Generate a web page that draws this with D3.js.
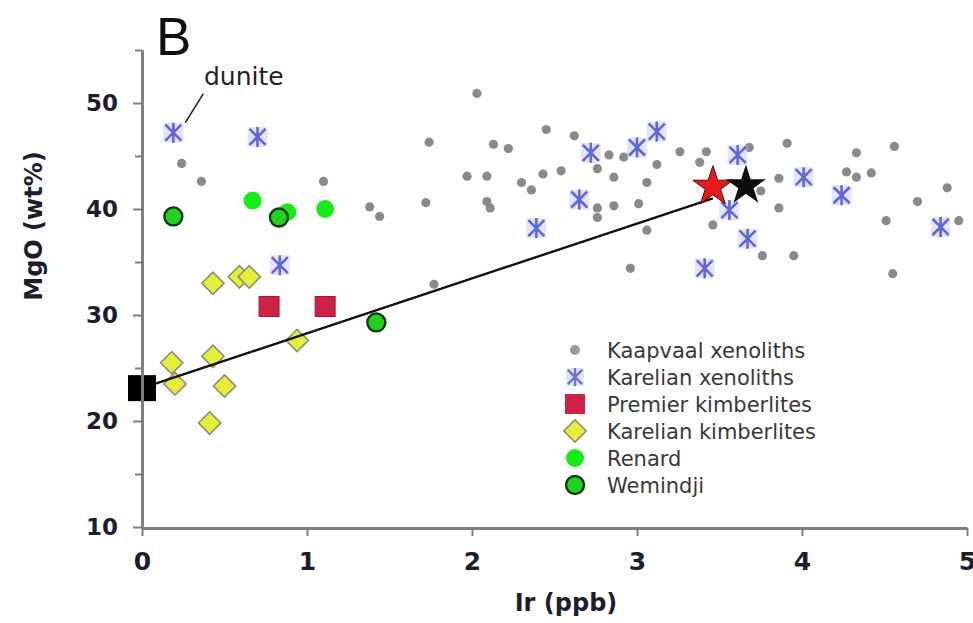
<!DOCTYPE html>
<html>
<head>
<meta charset="utf-8">
<script src="https://cdn.jsdelivr.net/npm/d3@7"></script>
<style>
  body { margin: 0; background: #fff; }
  svg { display: block; }
  .tick text { font-family: "DejaVu Sans", sans-serif; font-weight: bold; fill: #1d1d2b; }
  .legText { font-family: "DejaVu Sans", sans-serif; font-size: 21px; fill: #383838; }
</style>
</head>
<body>
<div id="scatter"></div>
<script>
// MgO vs Ir scatter (panel B)

// Data: [Ir ppb, MgO wt%]
var kaapvaal = [
  [0.24, 44.3], [0.36, 42.6], [1.10, 42.6], [1.38, 40.2], [1.44, 39.3],
  [1.74, 46.3], [1.72, 40.6], [1.77, 32.9], [2.03, 50.9], [1.97, 43.1],
  [2.09, 43.1], [2.09, 40.7], [2.11, 40.1], [2.13, 46.1], [2.22, 45.7],
  [2.30, 42.5], [2.36, 41.8], [2.43, 43.3], [2.54, 43.6], [2.45, 47.5],
  [2.62, 46.9], [2.76, 43.8], [2.83, 45.1], [2.86, 43.0], [2.76, 40.1],
  [2.76, 39.2], [2.86, 40.3], [2.92, 44.9], [3.01, 40.5], [3.06, 42.5],
  [3.06, 38.0], [2.96, 34.4], [3.12, 44.2], [3.26, 45.4], [3.42, 45.4],
  [3.38, 44.4], [3.46, 38.5], [3.68, 45.8], [3.75, 41.7], [3.86, 42.9],
  [3.86, 40.1], [3.91, 46.2], [3.76, 35.6], [3.95, 35.6], [4.33, 45.3],
  [4.56, 45.9], [4.27, 43.5], [4.33, 43.0], [4.42, 43.4], [4.88, 42.0],
  [4.70, 40.7], [4.51, 38.9], [4.95, 38.9], [4.55, 33.9]
];
var karelianXeno = [
  [0.19, 47.2], [0.70, 46.8], [0.835, 34.7], [2.39, 38.2], [2.65, 40.9],
  [2.72, 45.3], [3.00, 45.8], [3.12, 47.3], [3.41, 34.4], [3.56, 39.9],
  [3.61, 45.1], [3.67, 37.2], [4.01, 43.0], [4.24, 41.3], [4.84, 38.3]
];
var premier = [[0.77, 30.8], [1.11, 30.8]];
var karelianKimb = [
  [0.43, 33.0], [0.59, 33.6], [0.65, 33.6], [0.94, 27.6], [0.18, 25.5],
  [0.43, 26.1], [0.20, 23.5], [0.50, 23.3], [0.41, 19.8]
];
var renard = [[0.67, 40.8], [0.88, 39.7], [1.11, 40.0]];
var wemindji = [[0.19, 39.3], [0.83, 39.2], [1.42, 29.3]];
var startPoint = [0, 23.1];
var redStar = [3.46, 42.1];
var blackStar = [3.66, 42.2];
var mixLine = [[0, 23.1], [3.46, 41.0]];

var xTicks = [0, 1, 2, 3, 4, 5];
var yTicks = [10, 20, 30, 40, 50];
var yMinor = [15, 25, 35, 45, 55];
var legendNames = ["Kaapvaal xenoliths", "Karelian xenoliths", "Premier kimberlites",
  "Karelian kimberlites", "Renard", "Wemindji"];

// canvas
var width = 973;
var height = 623;

var svg = d3.select("#scatter")
  .append("svg")
  .attr("width", width)
  .attr("height", height);

var xScale = d3.scaleLinear().domain([0, 5]).range([142, 967]);
var yScale = d3.scaleLinear().domain([10, 55]).range([527, 50]);

var axisColor = "#7f7f7f";

// marker shapes
var xMark = "M-8,-8L8,8M-8,8L8,-8M0,-10L0,10";
var diamond = d3.symbol().type(d3.symbolSquare).size(250)();
var star = d3.symbol().type(d3.symbolStar).size(500)();

function px(d) { return xScale(d[0]); }
function py(d) { return yScale(d[1]); }

// Kaapvaal xenoliths
svg.append("g").selectAll("circle")
  .data(kaapvaal).enter()
  .append("circle")
  .attr("cx", px)
  .attr("cy", py)
  .attr("r", 4.6)
  .attr("fill", "#8a8a8a");

// Karelian xenoliths
var kx = svg.append("g").selectAll("g")
  .data(karelianXeno).enter()
  .append("g")
  .attr("transform", function(d) { return "translate(" + px(d) + "," + py(d) + ")"; });
kx.append("rect")
  .attr("x", -10).attr("y", -10).attr("width", 20).attr("height", 20)
  .attr("fill", "#c3c6f3").attr("opacity", 0.45);
kx.append("path")
  .attr("d", xMark)
  .attr("stroke", "#5f66d8")
  .attr("stroke-width", 2.6)
  .attr("fill", "none");

// Premier kimberlites
svg.append("g").selectAll("rect")
  .data(premier).enter()
  .append("rect")
  .attr("x", function(d) { return px(d) - 10; })
  .attr("y", function(d) { return py(d) - 10; })
  .attr("width", 20)
  .attr("height", 20)
  .attr("fill", "#cc2246")
  .attr("stroke", "#a3173a")
  .attr("stroke-width", 1);

// Karelian kimberlites
svg.append("g").selectAll("path")
  .data(karelianKimb).enter()
  .append("path")
  .attr("d", diamond)
  .attr("transform", function(d) { return "translate(" + px(d) + "," + py(d) + ") rotate(45)"; })
  .attr("fill", "#e4ef3a")
  .attr("stroke", "#8c8c7a")
  .attr("stroke-width", 1.6);

// Renard
svg.append("g").selectAll("circle")
  .data(renard).enter()
  .append("circle")
  .attr("cx", px)
  .attr("cy", py)
  .attr("r", 9)
  .attr("fill", "#16ec16");

// Wemindji
svg.append("g").selectAll("circle")
  .data(wemindji).enter()
  .append("circle")
  .attr("cx", px)
  .attr("cy", py)
  .attr("r", 9)
  .attr("fill", "#22d022")
  .attr("stroke", "#0c3a0c")
  .attr("stroke-width", 2.4);

// mixing line
svg.append("path")
  .datum(mixLine)
  .attr("d", d3.line().x(px).y(py))
  .attr("stroke", "#111")
  .attr("stroke-width", 2.4)
  .attr("fill", "none");

// black square at the start
svg.append("rect")
  .attr("x", xScale(startPoint[0]) - 14)
  .attr("y", yScale(startPoint[1]) - 13)
  .attr("width", 28)
  .attr("height", 26)
  .attr("fill", "#000");

// stars
svg.append("path")
  .attr("d", star)
  .attr("transform", "translate(" + px(redStar) + "," + py(redStar) + ")")
  .attr("fill", "#e8191c")
  .attr("stroke", "#4a0c0c")
  .attr("stroke-width", 1);
svg.append("path")
  .attr("d", star)
  .attr("transform", "translate(" + px(blackStar) + "," + py(blackStar) + ")")
  .attr("fill", "#0d0d0d");

// Axes
var yAxis = d3.axisLeft(yScale).tickValues(yTicks).tickSize(9).tickSizeOuter(0).tickPadding(15);
var yAxisMinor = d3.axisLeft(yScale).tickValues(yMinor).tickSize(7).tickSizeOuter(0).tickFormat("");
var xAxis = d3.axisBottom(xScale).tickValues(xTicks).tickSize(8).tickSizeOuter(0)
  .tickPadding(16).tickFormat(d3.format("d"));

var gy = svg.append("g")
  .attr("transform", "translate(" + xScale(0) + ",0)")
  .call(yAxis);
gy.selectAll("text").style("font-size", "23px");
var gyMinor = svg.append("g")
  .attr("transform", "translate(" + xScale(0) + ",0)")
  .call(yAxisMinor);

var gx = svg.append("g")
  .attr("transform", "translate(0," + (yScale(10) + 1) + ")")
  .call(xAxis);
gx.selectAll("text").style("font-size", "25px");

[gy, gyMinor, gx].forEach(function(g) {
  g.select(".domain").attr("stroke", axisColor).attr("stroke-width", 3);
  g.selectAll(".tick line").attr("stroke", axisColor).attr("stroke-width", 2);
});

// axis titles
svg.append("text")
  .attr("x", 566)
  .attr("y", 611)
  .attr("text-anchor", "middle")
  .style("font-family", "DejaVu Sans, sans-serif")
  .style("font-weight", "bold")
  .style("font-size", "24px")
  .attr("fill", "#1d1d2b")
  .text("Ir (ppb)");

svg.append("text")
  .attr("transform", "translate(42," + 226 + ")rotate(-90)")
  .attr("text-anchor", "middle")
  .style("font-family", "DejaVu Sans, sans-serif")
  .style("font-weight", "bold")
  .style("font-size", "24px")
  .attr("fill", "#1d1d2b")
  .text("MgO (wt%)");

// panel letter
svg.append("text")
  .attr("x", 156)
  .attr("y", 55)
  .style("font-family", "Liberation Sans, Arial, sans-serif")
  .style("font-size", "53px")
  .attr("fill", "#111")
  .text("B");

// dunite annotation
var dun = karelianXeno[0];
svg.append("line")
  .attr("x1", px(dun) + 12).attr("y1", py(dun) - 10)
  .attr("x2", px(dun) + 30).attr("y2", py(dun) - 39)
  .attr("stroke", "#222")
  .attr("stroke-width", 1.6);
svg.append("text")
  .attr("x", 204)
  .attr("y", 85)
  .style("font-family", "DejaVu Sans, sans-serif")
  .style("font-size", "25px")
  .attr("fill", "#222")
  .text("dunite");

// Legend
var legX = 575;
var legY = 358;
var legStep = 27;
var leg = svg.append("g");

legendNames.forEach(function(name, i) {
  var cy = legY + i * legStep - 8;
  var item = leg.append("g").attr("transform", "translate(" + legX + "," + cy + ")");
  if (i === 0) {
    item.append("circle").attr("r", 5).attr("fill", "#9a9a9a");
  } else if (i === 1) {
    item.append("rect").attr("x", -9).attr("y", -9).attr("width", 18).attr("height", 18)
      .attr("fill", "#c3c6f3").attr("opacity", 0.5);
    item.append("path").attr("d", xMark).attr("transform", "scale(0.9)")
      .attr("stroke", "#6a70da").attr("stroke-width", 2.6).attr("fill", "none");
  } else if (i === 2) {
    item.append("rect").attr("x", -10).attr("y", -10).attr("width", 20).attr("height", 20)
      .attr("fill", "#cc2246");
  } else if (i === 3) {
    item.append("path").attr("d", diamond).attr("transform", "rotate(45)")
      .attr("fill", "#e4ef3a").attr("stroke", "#8c8c7a").attr("stroke-width", 1.6);
  } else if (i === 4) {
    item.append("circle").attr("r", 9).attr("fill", "#16ec16");
  } else {
    item.append("circle").attr("r", 9).attr("fill", "#22d022")
      .attr("stroke", "#0c3a0c").attr("stroke-width", 2.4);
  }
  leg.append("text")
    .attr("class", "legText")
    .attr("x", 607)
    .attr("y", legY + i * legStep)
    .text(name);
});
</script>
</body>
</html>
